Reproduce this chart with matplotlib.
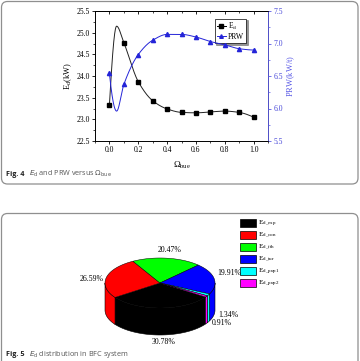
import numpy as np
import matplotlib
matplotlib.use('Agg')
import matplotlib.pyplot as plt
from matplotlib.patches import FancyBboxPatch, Polygon, Rectangle
from matplotlib.lines import Line2D
from matplotlib.ticker import MultipleLocator

# ---------------- data ----------------
# sample at 0.05 is the visible extreme of the drawn curve (no marker shown there)
omega_bue = [0.0, 0.05, 0.1, 0.2, 0.3, 0.4, 0.5, 0.6, 0.7, 0.8, 0.9, 1.0]
ed_kw = [23.33, 25.15, 24.77, 23.87, 23.43, 23.24, 23.16, 23.15, 23.17, 23.19, 23.16, 23.05]
prw_kwt = [6.54, 5.96, 6.37, 6.83, 7.05, 7.14, 7.14, 7.10, 7.03, 6.98, 6.92, 6.90]
marker_idx = [0, 2, 3, 4, 5, 6, 7, 8, 9, 10, 11]

pie_names = [r'E_{d\_exp}', r'E_{d\_con}', r'E_{d\_fth}', r'E_{d\_tur}',
             r'E_{d\_pup1}', r'E_{d\_pup2}']
pie_share = [30.78, 26.59, 20.47, 19.91, 1.34, 0.91]
pie_colors = ['#000000', '#ff0000', '#00ff00', '#0000ff', '#00ffff', '#ff00ff']

# ---------------- style ----------------
plt.rcParams['font.family'] = ['Liberation Serif', 'DejaVu Serif']
plt.rcParams['mathtext.fontset'] = 'stix'
W, H = 360, 361
fig = plt.figure(figsize=(W / 100, H / 100), dpi=100)

# background axes in pixel coordinates (y downward)
bg = fig.add_axes([0, 0, 1, 1], zorder=0)
bg.set_xlim(0, W)
bg.set_ylim(H, 0)
bg.axis('off')

for (x0, y0, w, h) in [(1.5, 1.5, 356.5, 182.5), (1.5, 213.5, 356.5, 170)]:
    bg.add_patch(FancyBboxPatch((x0, y0), w, h,
                                boxstyle='round,pad=0,rounding_size=6',
                                ec='#8f8f8f', fc='none', lw=0.9))

cap_kw = dict(fontsize=5.2, va='center', ha='left')
bg.text(6, 174, 'Fig. 4', fontweight='bold', family='Open Sans', color='#222222', **cap_kw)
bg.text(29, 174, r'$E_\mathrm{d}$ and PRW versus $\Omega_\mathrm{bue}$',
        family='Open Sans', color='#555555', math_fontfamily='dejavusans', **cap_kw)
bg.text(6, 354, 'Fig. 5', fontweight='bold', family='Open Sans', color='#222222', **cap_kw)
bg.text(29, 354, r'$E_\mathrm{d}$ distribution in BFC system',
        family='Open Sans', color='#555555', math_fontfamily='dejavusans', **cap_kw)


# ---------------- smooth connecting curve (shape-preserving cubic, PCHIP) ----------------
def pchip(x, y, xx):
    x = np.asarray(x, float)
    y = np.asarray(y, float)
    h = np.diff(x)
    dl = np.diff(y) / h
    n = len(x)
    m = np.zeros(n)
    for k in range(1, n - 1):
        if dl[k - 1] * dl[k] > 0:
            w1 = 2 * h[k] + h[k - 1]
            w2 = h[k] + 2 * h[k - 1]
            m[k] = (w1 + w2) / (w1 / dl[k - 1] + w2 / dl[k])

    def end(h0, h1, d0, d1):
        s = ((2 * h0 + h1) * d0 - h0 * d1) / (h0 + h1)
        if np.sign(s) != np.sign(d0):
            return 0.0
        if np.sign(d0) != np.sign(d1) and abs(s) > 3 * abs(d0):
            return 3 * d0
        return s

    m[0] = end(h[0], h[1], dl[0], dl[1])
    m[-1] = end(h[-1], h[-2], dl[-1], dl[-2])
    idx = np.clip(np.searchsorted(x, xx) - 1, 0, n - 2)
    hk = h[idx]
    s = (xx - x[idx]) / hk
    h00 = 2 * s ** 3 - 3 * s ** 2 + 1
    h10 = s ** 3 - 2 * s ** 2 + s
    h01 = -2 * s ** 3 + 3 * s ** 2
    h11 = s ** 3 - s ** 2
    return h00 * y[idx] + h10 * hk * m[idx] + h01 * y[idx + 1] + h11 * hk * m[idx + 1]


xs_fine = np.linspace(omega_bue[0], omega_bue[-1], 800)

# ---------------- Fig. 4 line chart ----------------
blue = '#2424d8'
axblue = '#5a5ae6'
ax = fig.add_axes([95 / W, 1 - 141 / H, (268 - 95) / W, 130 / H], zorder=2)
ax.set_xlim(-0.1, 1.1)
ax.set_ylim(22.5, 25.5)
ax2 = ax.twinx()
ax2.set_ylim(5.5, 7.5)

ax.plot(xs_fine, pchip(omega_bue, ed_kw, xs_fine), color='#222222', lw=0.7)
ax.plot(omega_bue, ed_kw, ls='none', marker='s', ms=2.6, color='black', markevery=marker_idx)
ax2.plot(xs_fine, pchip(omega_bue, prw_kwt, xs_fine), color=blue, lw=0.7)
ax2.plot(omega_bue, prw_kwt, ls='none', marker='^', ms=3.0, color=blue, markevery=marker_idx)

ax.xaxis.set_minor_locator(MultipleLocator(0.1))
ax.yaxis.set_minor_locator(MultipleLocator(0.25))
ax2.yaxis.set_minor_locator(MultipleLocator(0.25))
ax.set_xticks([0.0, 0.2, 0.4, 0.6, 0.8, 1.0])
ax.set_xticklabels(['0.0', '0.2', '0.4', '0.6', '0.8', '1.0'])
ax.set_yticks([22.5, 23.0, 23.5, 24.0, 24.5, 25.0, 25.5])
ax.set_yticklabels(['22.5', '23.0', '23.5', '24.0', '24.5', '25.0', '25.5'])
ax2.set_yticks([5.5, 6.0, 6.5, 7.0, 7.5])
ax2.set_yticklabels(['5.5', '6.0', '6.5', '7.0', '7.5'])

for a in (ax, ax2):
    a.tick_params(which='major', direction='out', length=2.2, width=0.6, labelsize=5.5, pad=1.5)
    a.tick_params(which='minor', direction='out', length=1.2, width=0.5)
    for s in a.spines.values():
        s.set_linewidth(0.6)
ax2.spines['right'].set_color(axblue)
ax2.tick_params(axis='y', which='both', colors=axblue)
ax2.tick_params(axis='y', labelcolor='#4848d8')
top = ax.secondary_xaxis('top')
top.xaxis.set_major_locator(MultipleLocator(0.2))
top.xaxis.set_minor_locator(MultipleLocator(0.1))
top.tick_params(which='major', direction='in', length=2.2, width=0.6, labeltop=False)
top.tick_params(which='minor', direction='in', length=1.2, width=0.5)
top.spines['top'].set_linewidth(0.6)

ax.set_ylabel(r'$\mathregular{E_d(kW)}$', fontsize=6, labelpad=2)
ax2.set_ylabel(r'$\mathregular{PRW(kW/t)}$', fontsize=6, color=axblue, labelpad=2)
ax.set_xlabel(r'$\mathregular{\Omega_{bue}}$', fontsize=6.5, labelpad=4)

handles = [Line2D([], [], color='black', lw=0.7, marker='s', ms=2.2),
           Line2D([], [], color=blue, lw=0.7, marker='^', ms=2.6)]
leg = ax.legend(handles, [r'$\mathregular{E_d}$', 'PRW'], loc='upper right',
                bbox_to_anchor=(0.895, 0.97), fontsize=5.5, handlelength=1.3,
                handletextpad=0.2, borderpad=0.25, labelspacing=0.15,
                fancybox=False, shadow={'ox': 1.2, 'oy': -1.2, 'alpha': 0.6},
                framealpha=1, edgecolor='black')
leg.get_frame().set_linewidth(0.5)

# ---------------- Fig. 5 3-D pie ----------------
cx, cy, ra, rb, depth = 160, 283, 55, 25, 27
start = 326.0
frac = np.asarray(pie_share, float)
cum = np.concatenate([[0], np.cumsum(frac)]) / frac.sum() * 360.0


def arc(t1, t2, n=80):
    th = np.radians(np.linspace(t1, t2, n))
    return cx + ra * np.cos(th), cy - rb * np.sin(th)


sides, tops = [], []
for i, col in enumerate(pie_colors):
    hi = start - cum[i]
    lo = start - cum[i + 1]
    for k in (-1, 0, 1):
        s = max(lo, 180 + 360 * k)
        e = min(hi, 360 + 360 * k)
        if e > s:
            x1, y1 = arc(s, e)
            xy = np.column_stack([np.concatenate([x1, x1[::-1]]),
                                  np.concatenate([y1, y1[::-1] + depth])])
            sides.append(Polygon(xy, closed=True, fc=col, ec='black', lw=0.4, zorder=3))
    x1, y1 = arc(hi, lo)
    xy = np.column_stack([np.concatenate([[cx], x1]), np.concatenate([[cy], y1])])
    tops.append(Polygon(xy, closed=True, fc=col, ec='black', lw=0.35, zorder=4))
for p in sides + tops:
    bg.add_patch(p)

label_xy = [(164, 342), (92, 279), (170, 250), (229, 273), (228, 315), (222, 323)]
for (lx, ly), v in zip(label_xy, pie_share):
    bg.text(lx, ly, f'{v:.2f}%', fontsize=5.6, ha='center', va='center', zorder=5)

for i, (name, col) in enumerate(zip(pie_names, pie_colors)):
    y0 = 219 + 12 * i
    bg.add_patch(Rectangle((240, y0), 16, 8, fc=col, ec='black', lw=0.5, zorder=5))
    bg.text(258.5, y0 + 4.5, r'$\mathregular{' + name + '}$', fontsize=5.2,
            ha='left', va='center', zorder=5)

fig.savefig('out.png', dpi=100)
